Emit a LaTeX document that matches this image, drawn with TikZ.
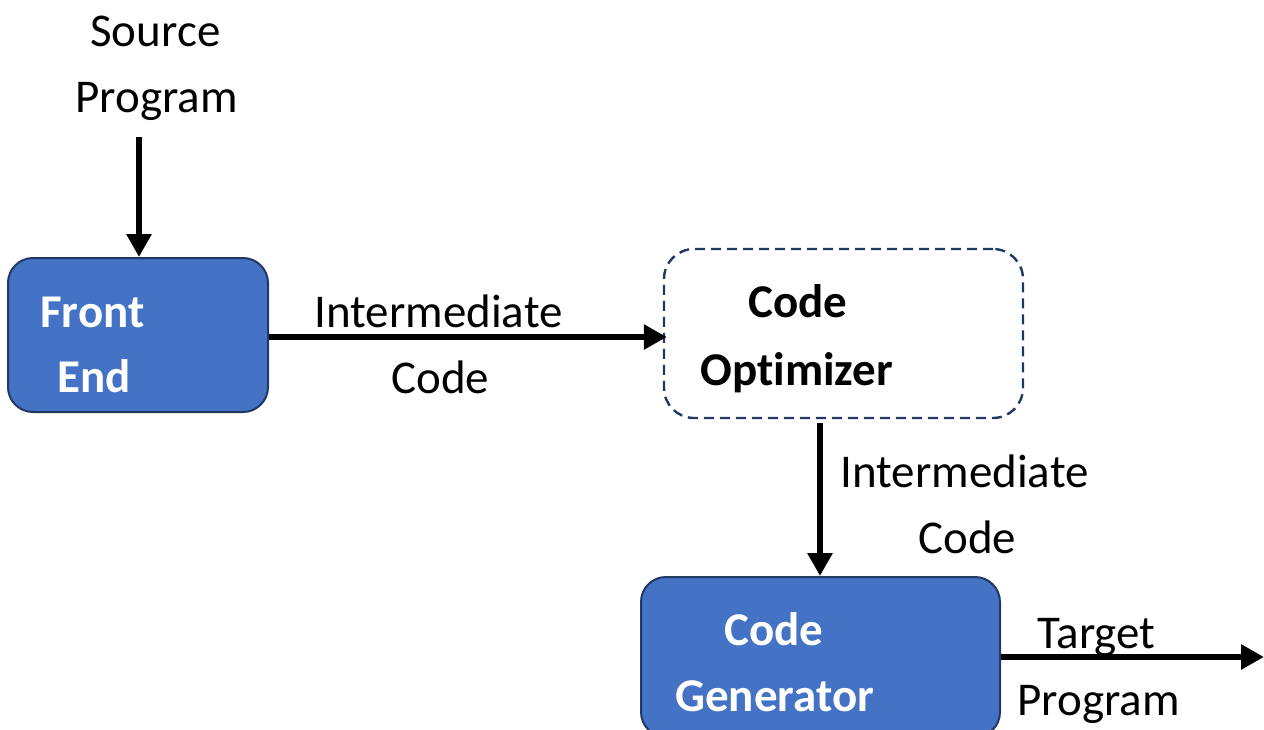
\documentclass[tikz,border=0pt]{standalone}
\usepackage{fontspec}
\setmainfont{Carlito}[Ligatures=NoCommon]
\usetikzlibrary{arrows.meta}
\definecolor{boxblue}{HTML}{4472C4}
\definecolor{boxedge}{HTML}{1F3864}
\tikzset{
  stage/.style={draw=boxedge, line width=1pt, fill=boxblue, rounded corners=12.5pt, inner sep=0pt},
  optbox/.style={draw=boxedge, line width=1.2pt, dash pattern=on 5pt off 3pt, rounded corners=15pt, inner sep=0pt},
  lbl/.style={anchor=base west, inner sep=0pt, font=\fontsize{23.5}{28}\selectfont},
  blbl/.style={lbl, font=\fontsize{23.5}{28}\selectfont\bfseries},
  wlbl/.style={blbl, text=white},
  flow/.style={line width=3.4pt, -{Triangle[width=12pt,length=11.5pt]}}
}
\begin{document}
\begin{tikzpicture}[x=0.5pt, y=-0.5pt]
\useasboundingbox (0,0) rectangle (1264,729);

% stage boxes
\node[stage, minimum width=130pt, minimum height=77pt] (fe) at (138,335) {};
\node[optbox, minimum width=179.5pt, minimum height=84.5pt] (opt) at (843.5,333.5) {};
\node[stage, minimum width=179.5pt, minimum height=80pt] (gen) at (820.5,657) {};

% box texts
\node[wlbl] (feA) at (40,327) {Front};
\node[wlbl] (feB) at (57,392) {End};
\node[blbl] (optA) at (748,317) {Code};
\node[blbl] (optB) at (700,385) {Optimizer};
\node[wlbl] (genA) at (724,645) {Code};
\node[wlbl] (genB) at (675,711) {Generator};

% plain labels
\node[lbl] (srcA) at (90,46) {Source};
\node[lbl] (srcB) at (75,112) {Program};
\node[lbl] (imA) at (314,327) {Intermediate};
\node[lbl] (imB) at (391,393) {Code};
\node[lbl] (imC) at (840,487) {Intermediate};
\node[lbl] (imD) at (918,553) {Code};
\node[lbl] (tgA) at (1037,648) {Target};
\node[lbl] (tgB) at (1017,715) {Program};

% connectors
\coordinate (s0) at (139,137);
\coordinate (v0) at (820,0);
\coordinate (t0) at (1264,657);
\draw[flow] (s0) -- (s0 |- fe.north);
\draw[flow] (fe.east |- 0,337) -- ([xshift=2pt]opt.west |- 0,337);
\draw[flow] (opt.south -| v0) ++(0,4) -- (gen.north -| v0);
\draw[flow] (gen.east) -- (t0);
\end{tikzpicture}
\end{document}
